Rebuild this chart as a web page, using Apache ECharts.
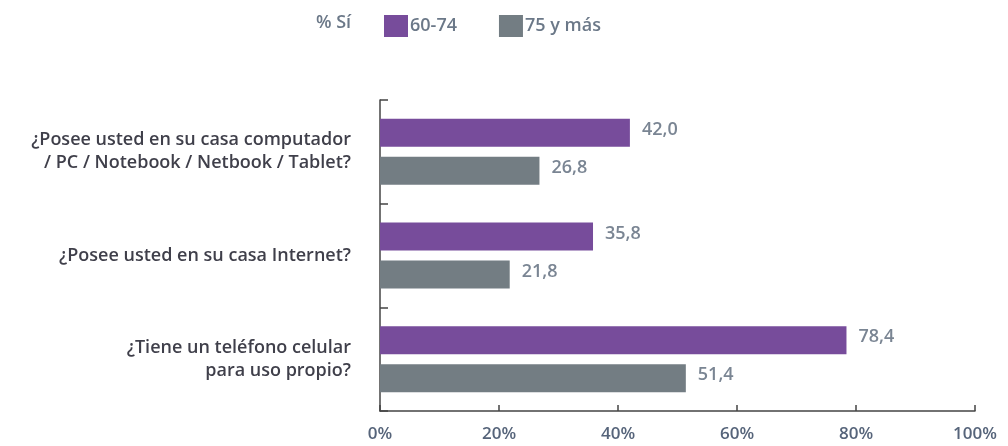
<!DOCTYPE html>
<html>
<head>
<meta charset="utf-8">
<script src="https://cdn.jsdelivr.net/npm/echarts@6/dist/echarts.min.js"></script>
<style>
  html, body { margin: 0; padding: 0; background: #fff; }
  #main { width: 1008px; height: 446px; }
</style>
</head>
<body>
<div id="main"></div>
<script>
// datos
const categories = [
  "¿Posee usted en su casa computador\n/ PC / Notebook / Netbook / Tablet?",
  "¿Posee usted en su casa Internet?",
  "¿Tiene un teléfono celular\npara uso propio?"
];
const seriesNames = ["60-74", "75 y más"];
const values6074 = [42.0, 35.8, 78.4];
const values75 = [26.8, 21.8, 51.4];
const xTicks = [0, 20, 40, 60, 80, 100];

const chart = echarts.init(document.getElementById("main"));

const fmt = v => v.toFixed(1).replace(".", ",");
const FONT = "Open Sans";

const valueLabel = {
  show: true,
  position: "right",
  distance: 12,
  offset: [0, -3],
  fontFamily: FONT,
  fontSize: 18,
  fontWeight: 600,
  color: "#7a8593",
  formatter: p => fmt(p.value)
};

const option = {
  backgroundColor: "#fff",
  animation: false,
  title: {
    text: "% Sí",
    left: 311,
    top: 9,
    textStyle: { fontFamily: FONT, fontSize: 18, fontWeight: 600, color: "#6b7888" }
  },
  legend: {
    data: seriesNames,
    left: 379,
    top: 10,
    itemWidth: 24,
    itemHeight: 22,
    itemGap: 42,
    icon: "rect",
    textStyle: { fontFamily: FONT, fontSize: 18, fontWeight: 600, color: "#6b7888", padding: [0, 0, 0, -3] }
  },
  grid: { left: 380, right: 33, top: 100, bottom: 35, containLabel: false },
  xAxis: {
    type: "value",
    min: 0,
    max: 100,
    interval: 20,
    axisLine: { show: true, lineStyle: { color: "#444", width: 1.5 } },
    axisTick: { show: true, inside: true, length: 6, lineStyle: { color: "#444", width: 1.5 } },
    splitLine: { show: false },
    axisLabel: {
      margin: 15,
      fontFamily: FONT,
      fontSize: 17,
      fontWeight: 600,
      color: "#56647a",
      formatter: v => xTicks.includes(v) ? v + "%" : ""
    }
  },
  yAxis: {
    type: "category",
    data: categories,
    inverse: true,
    axisLine: { show: true, lineStyle: { color: "#444", width: 1.5 } },
    axisTick: { show: true, inside: true, length: 8, lineStyle: { color: "#444", width: 1.5 } },
    axisLabel: {
      margin: 29,
      fontFamily: FONT,
      fontSize: 18,
      fontWeight: 600,
      lineHeight: 23,
      color: "#3f3f4a",
      align: "right"
    }
  },
  series: [
    {
      name: seriesNames[0],
      type: "bar",
      data: values6074,
      barWidth: 28,
      barGap: "36%",
      itemStyle: { color: "#774c9b" },
      label: valueLabel
    },
    {
      name: seriesNames[1],
      type: "bar",
      data: values75,
      barWidth: 28,
      itemStyle: { color: "#737d83" },
      label: valueLabel
    }
  ]
};

chart.setOption(option);
</script>
</body>
</html>
